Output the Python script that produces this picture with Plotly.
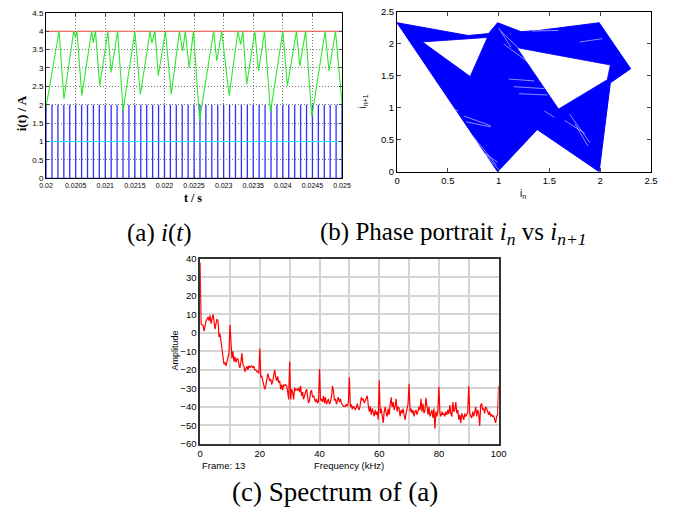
import numpy as np
import plotly.graph_objects as go

# ---------------- (a) i(t) ----------------
t_ticks = [0.02, 0.0205, 0.021, 0.0215, 0.022, 0.0225, 0.023, 0.0235, 0.024, 0.0245, 0.025]
t_ticktext = ["0.02", "0.0205", "0.021", "0.0215", "0.022", "0.0225", "0.023", "0.0235", "0.024", "0.0245", "0.025"]
i_ticks = [0, 0.5, 1, 1.5, 2, 2.5, 3, 3.5, 4, 4.5]
i_ref = 4.0          # red reference current
i_low = 1.0          # cyan line
clock_high = 2.0     # clock pulse amplitude
clock_period = 1e-4  # clock period (s)
t_start, t_end = 0.02, 0.025

green_t = [0.020000, 0.020220, 0.020302, 0.020467, 0.020495, 0.020522, 0.020604, 0.020769,
           0.020797, 0.020835, 0.020907, 0.021044, 0.021099, 0.021209, 0.021302, 0.021500,
           0.021593, 0.021758, 0.021786, 0.021841, 0.021896, 0.022016, 0.022115, 0.022253,
           0.022308, 0.022352, 0.022418, 0.022489, 0.022593, 0.022830, 0.022885, 0.022967,
           0.023093, 0.023242, 0.023286, 0.023324, 0.023390, 0.023527, 0.023588, 0.023692,
           0.023791, 0.024000, 0.024077, 0.024231, 0.024286, 0.024385, 0.024489, 0.024714,
           0.024780, 0.024890, 0.025000]
green_i = [1.94, 4.0, 2.16, 4.0, 3.85, 4.0, 2.25, 4.0,
           3.68, 4.0, 2.52, 4.0, 2.88, 4.0, 1.85, 4.0,
           2.28, 4.0, 3.68, 4.0, 2.79, 4.0, 2.29, 4.0,
           3.46, 4.0, 3.0, 4.0, 1.58, 4.0, 3.19, 4.0,
           2.25, 4.0, 3.64, 4.0, 2.56, 4.0, 2.92, 4.0,
           1.80, 4.0, 2.52, 4.0, 3.05, 4.0, 1.67, 4.0,
           2.92, 4.0, 2.03]

# ---------------- (b) phase portrait ----------------
outer_in = [0.0, 0.70, 0.90, 0.99, 1.22, 1.40, 1.99, 2.30, 2.10, 1.99, 1.38, 0.99, 0.0]
outer_in1 = [2.33, 2.13, 2.16, 2.33, 2.19, 2.21, 2.33, 1.61, 1.39, 0.0, 0.66, 0.0, 2.33]
hole1_in = [0.25, 0.89, 0.72, 0.25]
hole1_in1 = [2.03, 2.10, 1.49, 2.03]
hole2_in = [1.18, 2.10, 2.07, 1.59, 1.18]
hole2_in1 = [1.94, 1.67, 1.44, 0.98, 1.94]
# light streaks (gaps between the many trajectory lines)
streak_x0 = [1.00, 1.02, 1.05, 1.10, 1.15, 1.20, 0.75, 0.80, 0.85, 1.70, 1.75, 1.65, 0.66, 0.68, 1.80, 1.33, 0.45, 1.45]
streak_y0 = [2.25, 2.20, 2.00, 1.45, 1.33, 1.22, 0.55, 0.40, 0.30, 0.90, 0.75, 0.80, 0.87, 0.78, 2.03, 2.20, 1.05, 0.95]
streak_x1 = [1.12, 1.25, 1.30, 1.35, 1.45, 1.48, 0.98, 0.99, 0.99, 1.90, 1.88, 1.85, 0.92, 0.92, 2.02, 1.59, 0.60, 1.55]
streak_y1 = [1.95, 1.85, 1.70, 1.42, 1.30, 1.20, 0.10, 0.05, 0.15, 0.45, 0.40, 0.60, 0.72, 0.70, 2.08, 2.21, 0.95, 0.85]
pp_ticks = [0, 0.5, 1, 1.5, 2, 2.5]

# ---------------- (c) spectrum ----------------
amp = [
    38, 4.8, 4.4, 3.9, 0.9, 4, 6.5, 7.4, 8.6, 6.5, 9.5, 5, 7.4, 10, 6.5, 2, 4.8, 7.4, 6.5, -2.3,
    -0.5, -5, -6.7, -11, -17, -16, -17.8, -15.5, -13, -11,
    4.4, -9.3, -13.8, -10, -15.5, -13, -16, -14, -14, -17, -19, -16, -11, -17, -18, -21, -19, -18,
    -20, -17.8, -19, -18, -18, -19, -18, -20, -20, -21, -21, -22,
    -8.5, -24, -23.5, -26, -28.7, -30.5, -28.7, -25, -22, -24, -26, -25, -28, -26, -23.5, -20, -24,
    -26, -23.5, -27, -26, -30.5, -28, -31, -28, -28.5, -28, -28.7, -32, -36,
    -15.5, -36, -30.5, -32, -36, -29.6, -31, -30.5, -31, -29.6, -32, -28.7, -34, -32, -36, -33, -32,
    -30.4, -34.8, -38, -36.5, -32, -31, -34.8, -34, -36.5, -37.4, -35.7, -38, -37.4,
    -19.5, -36.5, -35.7, -37.4, -34, -38, -34.8, -38.6, -36.5, -35.7, -38.6, -37.4, -34.8, -28.7,
    -31.3, -36.5, -35.7, -38.6, -36.5, -34.8, -37.4, -35.7, -38, -39, -39.7, -39.7, -39.7, -38.6,
    -39.7, -37.4,
    -24, -40.3, -38.6, -41.4, -39.7, -40.3, -41.7, -40.3, -38.3, -40.9, -41.7, -38.6, -34.8, -36.5,
    -35.7, -38, -36.2, -34.8, -34, -39, -42.6, -39.7, -44.3, -40.9, -43.5, -45.2, -41.7, -44.3,
    -42.6, -47,
    -25.7, -43.5, -40.9, -45.2, -48.7, -42.6, -40, -43.5, -45.2, -40.9, -44.3, -39, -34.8, -40,
    -37.4, -41.7, -39.7, -35.7, -42.6, -40, -40.9, -45.2, -41.7, -43.5, -40.9, -44.3, -47, -43.5,
    -40.9, -38.3,
    -27.5, -42.6, -40.9, -43.5, -41.7, -45.2, -42.6, -41.7, -44.3, -40.9, -40, -41.7, -35.7, -42.6,
    -38.3, -43.5, -41.7, -35.1, -40.9, -44.3, -40, -45.2, -43.5, -41.7, -46, -40.9, -51.8, -42.6,
    -45.2, -41.7,
    -29.2, -43.5, -45.2, -42.6, -44.3, -43.5, -45.2, -42.6, -44.3, -41.7, -43.8, -39, -43.5, -45.2,
    -37.4, -42.6, -41.7, -37.4, -43.5, -41.7, -47, -44.3, -48.7, -43.5, -45.2, -47, -43.5, -45.2,
    -44.3, -42.6,
    -28.7, -43.5, -45.2, -46, -42.6, -45.2, -42.6, -40, -45.2, -41.7, -43.5, -50.4, -39, -38.3,
    -41.7, -40.9, -43.5, -40, -40.9, -42.6, -44.3, -42.6, -45.2, -44.3, -45.2, -44.9, -47, -48.7,
    -45.2, -44.3, -28.7,
]
f_min, f_max = 0, 100
freq = np.linspace(f_min, f_max, len(amp))
f_ticks = [0, 20, 40, 60, 80, 100]
a_ticks = [40, 30, 20, 10, 0, -10, -20, -30, -40, -50, -60]

W, H = 689, 520
def px(x): return x / W
def py(y): return 1 - y / H

fig = go.Figure()

# clock pulses: separate vertical segments plus the low level
n_pulses = int(round((t_end - t_start) / clock_period)) + 1
cx, cy = [t_start, t_end, None], [0, 0, None]
for k in range(n_pulses):
    tk = t_start + k * clock_period
    cx += [tk, tk, None]
    cy += [0, clock_high, None]
fig.add_trace(go.Scatter(x=cx, y=cy, mode="lines", line=dict(color="#3030ff", width=1.3),
                         xaxis="x", yaxis="y", hoverinfo="skip", connectgaps=False))
fig.add_trace(go.Scatter(x=[t_start, t_end], y=[i_low, i_low], mode="lines",
                         line=dict(color="#19e6ff", width=1.2), xaxis="x", yaxis="y"))
fig.add_trace(go.Scatter(x=[t_start, t_end], y=[i_ref, i_ref], mode="lines",
                         line=dict(color="#ff4a4a", width=1.2), xaxis="x", yaxis="y"))
fig.add_trace(go.Scatter(x=green_t, y=green_i, mode="lines",
                         line=dict(color="#2ee62e", width=1.1), xaxis="x", yaxis="y"))

# phase portrait
fig.add_trace(go.Scatter(x=outer_in, y=outer_in1, mode="lines", fill="toself",
                         fillcolor="#0000ff", line=dict(color="#0000ff", width=1),
                         xaxis="x2", yaxis="y2"))
for hx, hy in [(hole1_in, hole1_in1), (hole2_in, hole2_in1)]:
    fig.add_trace(go.Scatter(x=hx, y=hy, mode="lines", fill="toself",
                             fillcolor="white", line=dict(color="#0000ff", width=0.8),
                             xaxis="x2", yaxis="y2"))
sx, sy = [], []
for a, b, c, d in zip(streak_x0, streak_y0, streak_x1, streak_y1):
    sx += [a, c, None]
    sy += [b, d, None]
fig.add_trace(go.Scatter(x=sx, y=sy, mode="lines", line=dict(color="rgba(235,235,255,0.85)", width=0.7),
                         xaxis="x2", yaxis="y2", hoverinfo="skip"))

# spectrum
fig.add_trace(go.Scatter(x=freq, y=amp, mode="lines",
                         line=dict(color="#ff0000", width=1.2), xaxis="x3", yaxis="y3"))

small = dict(family="Liberation Sans Narrow, Arial Narrow, Liberation Sans, sans-serif", size=7, color="black")
med = dict(family="Liberation Sans, Arial, sans-serif", size=9.5, color="black")

fig.update_layout(
    width=W, height=H, autosize=False, margin=dict(l=0, r=0, t=0, b=0, pad=0),
    paper_bgcolor="white", plot_bgcolor="white", showlegend=False,
    xaxis=dict(domain=[px(40), px(343)], range=[t_start, t_end], tickvals=t_ticks,
               ticktext=t_ticktext, showgrid=True, gridcolor="#777", griddash="1px,2px",
               gridwidth=1, showline=True, linecolor="black", linewidth=1, mirror="ticks",
               ticks="inside", ticklen=3, tickfont=small, zeroline=False, anchor="y"),
    yaxis=dict(domain=[py(176), py(7)], range=[0, 4.5], tickvals=i_ticks,
               showgrid=True, gridcolor="#777", griddash="1px,2px", gridwidth=1,
               showline=True, linecolor="black", linewidth=1, mirror="ticks",
               ticks="inside", ticklen=3, tickfont=dict(small, size=8), zeroline=False, anchor="x"),
    xaxis2=dict(domain=[px(399.3), px(659.3)], range=[0, 2.5], tickvals=pp_ticks,
                showgrid=False, showline=True, linecolor="black", linewidth=1, mirror="ticks",
                ticks="inside", ticklen=4, tickfont=med, zeroline=False, anchor="y2"),
    yaxis2=dict(domain=[py(169.3), py(6)], range=[0, 2.5], tickvals=pp_ticks,
                showgrid=False, showline=True, linecolor="black", linewidth=1, mirror="ticks",
                ticks="inside", ticklen=4, tickfont=med, zeroline=False, anchor="x2"),
    xaxis3=dict(domain=[px(197.7), px(503.3)], range=[f_min, f_max], tickvals=f_ticks,
                showgrid=True, gridcolor="#d4d4d4", gridwidth=1.5,
                minor=dict(dtick=10, showgrid=True, gridcolor="#d4d4d4", gridwidth=1.5),
                showline=True, linecolor="#333", linewidth=1.5, mirror=True,
                ticks="", tickfont=med, zeroline=False, anchor="y3"),
    yaxis3=dict(domain=[py(447.3), py(258.3)], range=[-60, 40], tickvals=a_ticks,
                showgrid=True, gridcolor="#d4d4d4", gridwidth=1.5,
                showline=True, linecolor="#333", linewidth=1.5, mirror=True,
                ticks="", tickfont=med, zeroline=False, anchor="x3"),
)

serif = "Liberation Serif, Times New Roman, serif"
ann = [
    dict(x=px(15), y=py(110), text="<b>i(t) / A</b>", textangle=-90,
         font=dict(family=serif, size=13, color="black")),
    dict(x=px(190), y=py(196), text="<b>t / s</b>",
         font=dict(family=serif, size=12, color="black")),
    dict(x=px(364), y=py(98), text="i<sub>n+1</sub>", textangle=-90,
         font=dict(family="Liberation Sans, Arial, sans-serif", size=10, color="black")),
    dict(x=px(528), y=py(192), text="i<sub>n</sub>",
         font=dict(family="Liberation Sans, Arial, sans-serif", size=10, color="black")),
    dict(x=px(172), y=py(352), text="Amplitude", textangle=-90,
         font=dict(family="Liberation Sans, Arial, sans-serif", size=9, color="black")),
    dict(x=px(350), y=py(469), text="Frequency (kHz)",
         font=dict(family="Liberation Sans, Arial, sans-serif", size=9.5, color="black")),
    dict(x=px(198), y=py(469), text="Frame: 13", xanchor="left",
         font=dict(family="Liberation Sans, Arial, sans-serif", size=9.5, color="black")),
    dict(x=px(156), y=py(232), text="(a) <i>i</i>(<i>t</i>)",
         font=dict(family=serif, size=25, color="black")),
    dict(x=px(457), y=py(232), text="(b) Phase portrait <i>i<sub>n</sub></i> vs <i>i<sub>n+1</sub></i>",
         font=dict(family=serif, size=25, color="black")),
    dict(x=px(336), y=py(497), text="(c) Spectrum of (a)",
         font=dict(family=serif, size=27, color="black")),
]
for a in ann:
    a.update(xref="paper", yref="paper", showarrow=False)
    a.setdefault("xanchor", "center")
    a.setdefault("yanchor", "middle")
fig.update_layout(annotations=ann)

fig.write_html("out.html", config={"displayModeBar": False},
               post_script="document.body.style.margin='0';document.body.style.overflow='hidden';")
